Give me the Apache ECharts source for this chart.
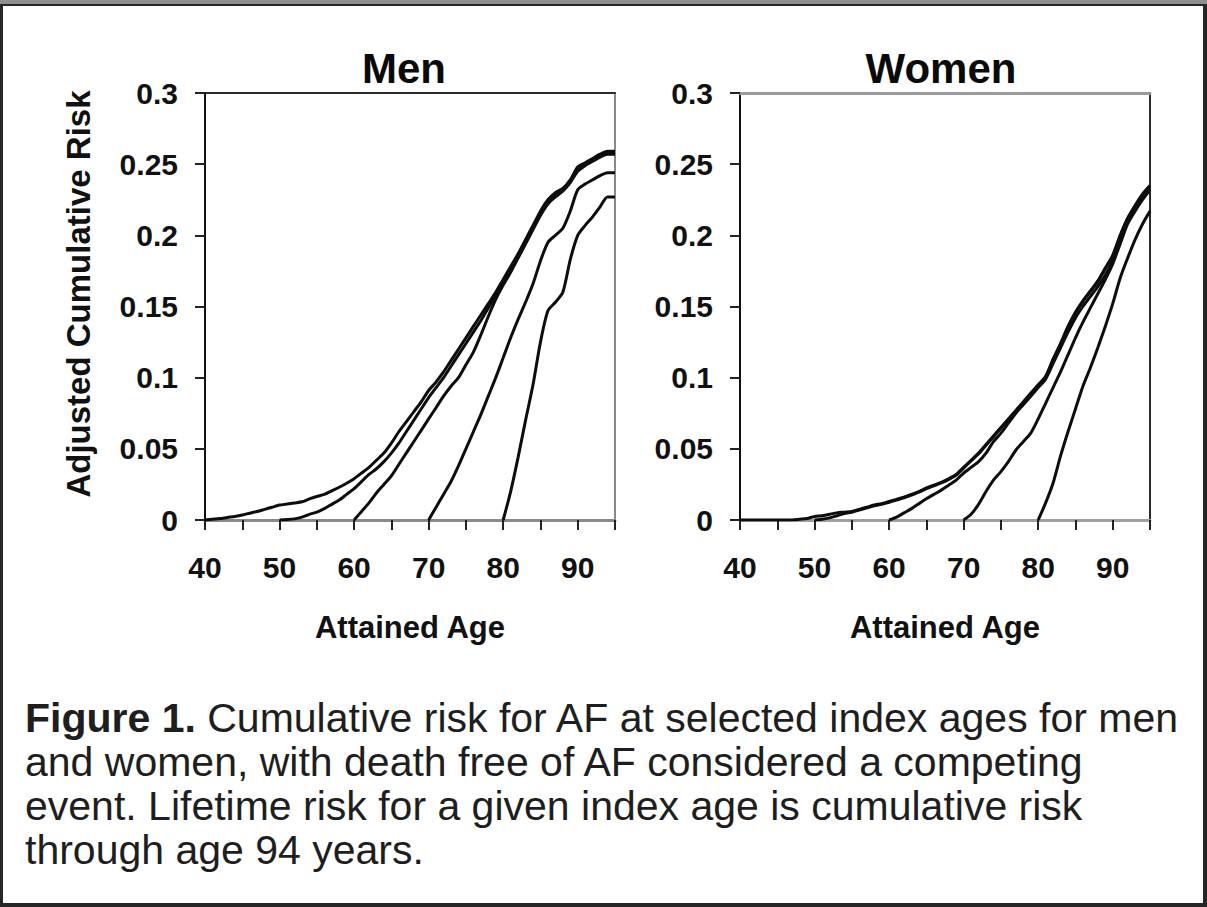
<!DOCTYPE html>
<html>
<head>
<meta charset="utf-8">
<script src="https://cdn.jsdelivr.net/npm/echarts@6/dist/echarts.min.js"></script>
<style>
  html, body { margin: 0; padding: 0; width: 1207px; height: 907px; overflow: hidden; background: #262626; }
  #topband { position: absolute; left: 0; top: 0; width: 1207px; height: 4px; background: #8e8e8e; }
  #panel { position: absolute; left: 3px; top: 6px; width: 1200px; height: 897px; background: #ffffff; }
  #chart { position: absolute; left: 0; top: 0; width: 1207px; height: 907px; }
</style>
</head>
<body>
<div id="topband"></div>
<div id="panel"></div>
<div id="chart"></div>
<script>
// ---- data ----
const panelTitles = ['Men', 'Women'];
const xAxisName = 'Attained Age';
const yAxisName = 'Adjusted Cumulative Risk';
const indexAges = [40, 50, 60, 70, 80];
const lastAge = 95;

// Men: cumulative risk by attained age, one value per year from the index age to 95
const menIdx40 = [0, 0.0005, 0.001, 0.0018, 0.0025, 0.0035, 0.0048, 0.006, 0.0075, 0.009,
  0.0105, 0.0112, 0.012, 0.0128, 0.0148, 0.0165, 0.018, 0.0205, 0.023, 0.0258,
  0.029, 0.033, 0.037, 0.042, 0.047, 0.054, 0.062, 0.069, 0.076, 0.083,
  0.091, 0.097, 0.104, 0.112, 0.12, 0.128, 0.136, 0.144, 0.152, 0.16,
  0.169, 0.178, 0.187, 0.197, 0.207, 0.217, 0.225, 0.23, 0.233, 0.239,
  0.248, 0.251, 0.254, 0.257, 0.259, 0.259];
const menIdx50 = [0, 0.0003, 0.0008, 0.002, 0.004, 0.0055, 0.008, 0.011, 0.014, 0.018,
  0.022, 0.027, 0.032, 0.036, 0.041, 0.047, 0.054, 0.062, 0.07, 0.078,
  0.086, 0.093, 0.1, 0.108, 0.116, 0.124, 0.132, 0.14, 0.149, 0.158,
  0.167, 0.176, 0.185, 0.195, 0.205, 0.215, 0.223, 0.228, 0.232, 0.238,
  0.246, 0.25, 0.253, 0.256, 0.258, 0.258];
const menIdx60 = [0, 0.006, 0.012, 0.019, 0.025, 0.031, 0.039, 0.047, 0.055, 0.063,
  0.071, 0.079, 0.087, 0.094, 0.1, 0.109, 0.118, 0.13, 0.143, 0.155,
  0.165, 0.174, 0.184, 0.194, 0.204, 0.214, 0.222, 0.227, 0.231, 0.237,
  0.245, 0.249, 0.252, 0.255, 0.257, 0.257];
const menIdx70 = [0, 0.009, 0.018, 0.027, 0.038, 0.05, 0.062, 0.074, 0.087, 0.1,
  0.114, 0.128, 0.141, 0.153, 0.166, 0.182, 0.195, 0.2, 0.205, 0.217,
  0.232, 0.236, 0.239, 0.242, 0.244, 0.244];
const menIdx80 = [0, 0.02, 0.044, 0.07, 0.095, 0.125, 0.147, 0.153, 0.16, 0.183,
  0.2, 0.207, 0.213, 0.22, 0.227, 0.227];

// Women
const womenIdx40 = [0, 0, 0, 0, 0, 0, 0, 0, 0.0005, 0.001,
  0.0025, 0.003, 0.004, 0.005, 0.0055, 0.006, 0.0075, 0.009, 0.0105, 0.0115,
  0.013, 0.0145, 0.016, 0.018, 0.02, 0.0225, 0.0245, 0.0265, 0.029, 0.032,
  0.037, 0.042, 0.047, 0.053, 0.059, 0.065, 0.071, 0.077, 0.083, 0.089,
  0.095, 0.101, 0.113, 0.124, 0.136, 0.146, 0.154, 0.161, 0.168, 0.177,
  0.186, 0.2, 0.212, 0.221, 0.229, 0.235];
const womenIdx50 = [0, 0.0005, 0.0015, 0.003, 0.0045, 0.0055, 0.007, 0.0085, 0.01, 0.011,
  0.0125, 0.014, 0.0155, 0.0175, 0.0195, 0.022, 0.024, 0.026, 0.0285, 0.0315,
  0.0365, 0.0415, 0.0465, 0.0525, 0.0585, 0.0645, 0.0705, 0.0765, 0.0825, 0.0885,
  0.0945, 0.1005, 0.1125, 0.1235, 0.1355, 0.1455, 0.1535, 0.1605, 0.1675, 0.1765,
  0.1855, 0.1995, 0.2115, 0.2205, 0.2285, 0.2345];
const womenIdx60 = [0, 0.002, 0.005, 0.008, 0.0115, 0.015, 0.018, 0.021, 0.0245, 0.028,
  0.033, 0.037, 0.041, 0.047, 0.055, 0.061, 0.068, 0.075, 0.081, 0.087,
  0.093, 0.099, 0.11, 0.121, 0.132, 0.142, 0.15, 0.157, 0.164, 0.172,
  0.182, 0.196, 0.21, 0.219, 0.227, 0.233];
const womenIdx70 = [0, 0.004, 0.011, 0.02, 0.028, 0.034, 0.041, 0.049, 0.055, 0.061,
  0.071, 0.082, 0.093, 0.104, 0.116, 0.128, 0.139, 0.149, 0.159, 0.169,
  0.18, 0.194, 0.208, 0.217, 0.225, 0.232];
const womenIdx80 = [0, 0.012, 0.026, 0.045, 0.062, 0.078, 0.094, 0.107, 0.121, 0.136,
  0.152, 0.17, 0.184, 0.197, 0.208, 0.217];

const xTickLabels = [40, 50, 60, 70, 80, 90];
const yTickLabels = ['0', '0.05', '0.1', '0.15', '0.2', '0.25', '0.3'];

const captionBold = 'Figure 1.';
const captionLines = [
  ' Cumulative risk for AF at selected index ages for men',
  'and women, with death free of AF considered a competing',
  'event. Lifetime risk for a given index age is cumulative risk',
  'through age 94 years.'
];

// ---- chart ----
const FONT = '"Liberation Sans", Arial, Helvetica, sans-serif';
const panels = [
  { series: [menIdx40, menIdx50, menIdx60, menIdx70, menIdx80],
    grid: { left: 205, top: 93, width: 410, height: 427 }, titleX: 399,
    topColor: '#2a2a2a', topWidth: 2, rightColor: '#8a8a8a', rightWidth: 2, xLineColor: '#8a8a8a' },
  { series: [womenIdx40, womenIdx50, womenIdx60, womenIdx70, womenIdx80],
    grid: { left: 740, top: 93, width: 410, height: 427 }, titleX: 936,
    topColor: '#9a9a9a', topWidth: 3, rightColor: '#2a2a2a', rightWidth: 2, xLineColor: '#a0a0a0' }
];

const grids = [], xAxes = [], yAxes = [], series = [], titles = [];
panels.forEach((p, gi) => {
  grids.push(Object.assign({ containLabel: false }, p.grid));
  // bottom x axis
  xAxes.push({
    type: 'value', gridIndex: gi, min: 40, max: lastAge, interval: 5, position: 'bottom',
    name: xAxisName, nameLocation: 'middle', nameGap: 92,
    nameTextStyle: { fontFamily: FONT, fontWeight: 'bold', fontSize: 31, color: '#111' },
    axisLine: { onZero: false, lineStyle: { color: p.xLineColor, width: 3 } },
    axisTick: { inside: false, length: 10, lineStyle: { color: '#222', width: 2 } },
    axisLabel: { margin: 32, fontFamily: FONT, fontWeight: 'bold', fontSize: 30, color: '#111',
      formatter: v => (xTickLabels.indexOf(v) >= 0 ? String(v) : '') },
    splitLine: { show: false }
  });
  // top border
  xAxes.push({
    type: 'value', gridIndex: gi, min: 40, max: lastAge, position: 'top',
    axisLine: { onZero: false, lineStyle: { color: p.topColor, width: p.topWidth } },
    axisTick: { show: false }, axisLabel: { show: false }, splitLine: { show: false }
  });
  // left y axis
  yAxes.push({
    type: 'value', gridIndex: gi, min: 0, max: 0.3, interval: 0.05, position: 'left',
    axisLine: { show: true, onZero: false, lineStyle: { color: '#111', width: 2 } },
    axisTick: { show: true, inside: false, length: 10, lineStyle: { color: '#222', width: 2 } },
    axisLabel: { margin: 27, fontFamily: FONT, fontWeight: 'bold', fontSize: 30, color: '#111',
      formatter: v => { const s = String(Math.round(v * 100) / 100); return yTickLabels.indexOf(s) >= 0 ? s : ''; } },
    splitLine: { show: false }
  });
  // right border
  yAxes.push({
    type: 'value', gridIndex: gi, min: 0, max: 0.3, position: 'right',
    axisLine: { show: true, onZero: false, lineStyle: { color: p.rightColor, width: p.rightWidth } },
    axisTick: { show: false }, axisLabel: { show: false }, splitLine: { show: false }
  });
  p.series.forEach((vals, si) => {
    const start = indexAges[si];
    series.push({
      type: 'line', xAxisIndex: gi * 2, yAxisIndex: gi * 2,
      data: vals.map((v, i) => [start + i, v]),
      showSymbol: false, symbol: 'none', smooth: 0.25,
      lineStyle: { color: '#0d0d0d', width: 3 },
      z: 5, silent: true, animation: false
    });
  });
  titles.push({
    text: panelTitles[gi],
    left: p.titleX, top: 42, textAlign: 'center',
    textStyle: { fontFamily: FONT, fontWeight: 'bold', fontSize: 42, color: '#0a0a0a' }
  });
});

const chart = echarts.init(document.getElementById('chart'), null, { renderer: 'svg', width: 1207, height: 907 });
chart.setOption({
  animation: false,
  backgroundColor: 'transparent',
  title: titles,
  grid: grids,
  xAxis: xAxes,
  yAxis: yAxes,
  series: series,
  graphic: [
    {
      type: 'text', x: 78, y: 294, rotation: Math.PI / 2,
      style: { text: yAxisName, fontFamily: FONT, fontWeight: 'bold', fontSize: 33, fill: '#111',
        align: 'center', verticalAlign: 'middle' }
    },
    {
      type: 'text', x: 25, y: 696,
      style: {
        text: '{b|' + captionBold + '}' + captionLines.join('\n'),
        fontFamily: FONT, fontSize: 41, lineHeight: 44, fill: '#1e1e1e',
        rich: { b: { fontFamily: FONT, fontWeight: 'bold', fontSize: 41, lineHeight: 44, fill: '#1e1e1e' } }
      }
    }
  ]
});
</script>
</body>
</html>
